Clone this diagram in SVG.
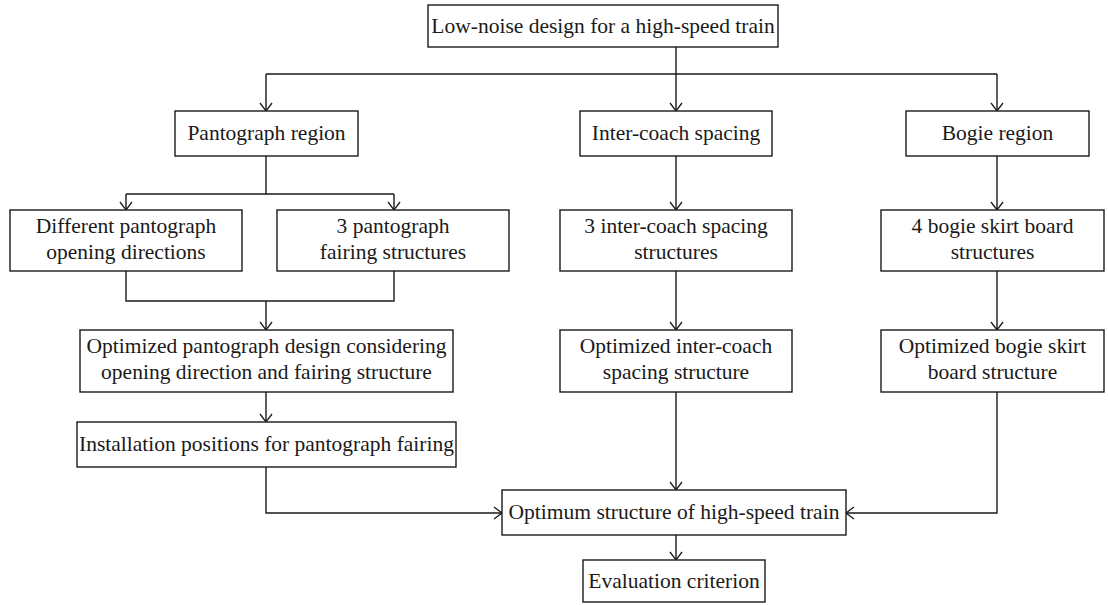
<svg xmlns="http://www.w3.org/2000/svg" width="1108" height="605" viewBox="0 0 1108 605">
<style>
rect{fill:#fff;stroke:#1a1a1a;stroke-width:1.4}
text{font-family:"Liberation Serif","DejaVu Serif",serif;font-size:21.5px;fill:#1a1a1a;text-anchor:middle}
.c{fill:none;stroke:#1a1a1a;stroke-width:1.4}
</style>
<defs>
<marker id="arr" markerWidth="12" markerHeight="14" refX="9" refY="7" orient="auto" markerUnits="userSpaceOnUse"><path d="M1,1 L9,7 L1,13" fill="none" stroke="#1a1a1a" stroke-width="1.3"/></marker>
</defs>
<g id="connectors">
<path class="c" d="M676,47 V74"/>
<path class="c" d="M266,74 H997"/>
<path class="c" d="M266,74 V111" marker-end="url(#arr)"/>
<path class="c" d="M676,74 V111" marker-end="url(#arr)"/>
<path class="c" d="M997,74 V111" marker-end="url(#arr)"/>
<path class="c" d="M266,156 V194 M126,194 H394"/>
<path class="c" d="M126,194 V210" marker-end="url(#arr)"/>
<path class="c" d="M394,194 V210" marker-end="url(#arr)"/>
<path class="c" d="M126,271 V301 H394 V271"/>
<path class="c" d="M266,301 V330" marker-end="url(#arr)"/>
<path class="c" d="M266,392 V422" marker-end="url(#arr)"/>
<path class="c" d="M266,467 V513 H502" marker-end="url(#arr)"/>
<path class="c" d="M676,156 V210" marker-end="url(#arr)"/>
<path class="c" d="M676,271 V330" marker-end="url(#arr)"/>
<path class="c" d="M676,392 V490" marker-end="url(#arr)"/>
<path class="c" d="M997,156 V210" marker-end="url(#arr)"/>
<path class="c" d="M997,271 V330" marker-end="url(#arr)"/>
<path class="c" d="M997,392 V513 H846" marker-end="url(#arr)"/>
<path class="c" d="M676,535 V560" marker-end="url(#arr)"/>
</g>
<g id="n-top"><rect x="428" y="5" width="350" height="42"/><text x="603" y="33">Low-noise design for a high-speed train</text></g>
<g id="n-panto"><rect x="175" y="111" width="183" height="45"/><text x="266.5" y="140">Pantograph region</text></g>
<g id="n-inter"><rect x="580" y="111" width="192" height="45"/><text x="676" y="140">Inter-coach spacing</text></g>
<g id="n-bogie"><rect x="906" y="111" width="183" height="45"/><text x="997.5" y="140">Bogie region</text></g>
<g id="n-diff"><rect x="10" y="210" width="232" height="61"/><text x="126" y="233">Different pantograph</text><text x="126" y="259">opening directions</text></g>
<g id="n-fair"><rect x="277" y="210" width="232" height="61"/><text x="393" y="233">3 pantograph</text><text x="393" y="259">fairing structures</text></g>
<g id="n-3inter"><rect x="560" y="210" width="232" height="61"/><text x="676" y="233">3 inter-coach spacing</text><text x="676" y="259">structures</text></g>
<g id="n-4bogie"><rect x="881" y="210" width="223" height="61"/><text x="992.5" y="233">4 bogie skirt board</text><text x="992.5" y="259">structures</text></g>
<g id="n-optpanto"><rect x="80" y="330" width="373" height="62"/><text x="266.5" y="353">Optimized pantograph design considering</text><text x="266.5" y="379">opening direction and fairing structure</text></g>
<g id="n-optinter"><rect x="560" y="330" width="232" height="62"/><text x="676" y="353">Optimized inter-coach</text><text x="676" y="379">spacing structure</text></g>
<g id="n-optbogie"><rect x="881" y="330" width="223" height="62"/><text x="992.5" y="353">Optimized bogie skirt</text><text x="992.5" y="379">board structure</text></g>
<g id="n-install"><rect x="77" y="422" width="379" height="45"/><text x="266.5" y="451">Installation positions for pantograph fairing</text></g>
<g id="n-optimum"><rect x="502" y="490" width="344" height="45"/><text x="674" y="519">Optimum structure of high-speed train</text></g>
<g id="n-eval"><rect x="583" y="560" width="182" height="42"/><text x="674" y="588">Evaluation criterion</text></g>
</svg>
